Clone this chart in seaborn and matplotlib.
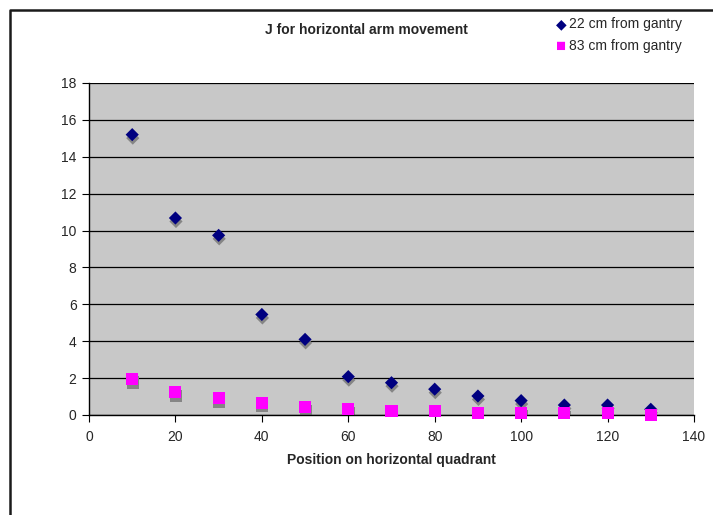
import matplotlib
matplotlib.use("Agg")
import matplotlib.pyplot as plt
import matplotlib.transforms as mtransforms
import seaborn as sns
import pandas as pd

# %% data
position = [10, 20, 30, 40, 50, 60, 70, 80, 90, 100, 110, 120, 130]
j_22cm = [15.2, 10.68, 9.74, 5.45, 4.1, 2.08, 1.75, 1.4, 1.03, 0.78, 0.54, 0.54, 0.31]
j_83cm = [1.95, 1.23, 0.9, 0.65, 0.41, 0.3, 0.23, 0.2, 0.09, 0.12, 0.09, 0.12, 0.02]
series_names = ["22 cm from gantry", "83 cm from gantry"]

df = pd.DataFrame({"position": position * 2,
                   "J": j_22cm + j_83cm,
                   "series": [series_names[0]] * len(position) + [series_names[1]] * len(position)})

# %% style
sns.set_style("white")
plt.rcParams["font.family"] = ["Liberation Sans", "DejaVu Sans"]

W, H = 713, 515
fig = plt.figure(figsize=(W / 100, H / 100), dpi=100)
ax = fig.add_axes([89 / W, 100 / H, 605 / W, 332 / H])
ax.set_facecolor("#C8C8C8")

palette = {series_names[0]: "#000080", series_names[1]: "#FF00FF"}
markers = {series_names[0]: "D", series_names[1]: "s"}
sizes = {series_names[0]: 45, series_names[1]: 75}

# grey drop shadows, shifted a little down/right in screen space
sns.scatterplot(data=df, x="position", y="J", hue="series", style="series",
                palette={n: "#858585" for n in series_names}, markers=markers,
                size="series", sizes=sizes, linewidth=0, ax=ax, zorder=2, legend=False)
shadow = ax.collections[-1]
shadow.set_offset_transform(mtransforms.offset_copy(ax.transData, fig=fig, x=0.4, y=-2.5, units="points"))

sns.scatterplot(data=df, x="position", y="J", hue="series", style="series",
                palette=palette, markers=markers, size="series", sizes=sizes,
                linewidth=0, ax=ax, zorder=3, legend=False)
ax.collections[-1].set_clip_on(False)

ax.set_xlim(0, 140)
ax.set_ylim(0, 18)
ax.set_xticks(range(0, 141, 20))
ax.set_yticks(range(0, 19, 2))
ax.yaxis.grid(True, color="black", linewidth=0.9)
ax.set_axisbelow(True)
for s in ["top", "right"]:
    ax.spines[s].set_visible(False)
for s in ["left", "bottom"]:
    ax.spines[s].set_color("black")
    ax.spines[s].set_linewidth(1)
ax.tick_params(axis="both", which="both", direction="out", length=5, width=0.8,
               labelsize=10, left=True, bottom=True, color="black", pad=4)
ax.tick_params(axis="x", pad=6)
ax.set_xlabel("Position on horizontal quadrant", fontsize=10, fontweight="bold", labelpad=6)
ax.set_ylabel("")

fig.text(366 / W, 1 - 30 / H, "J for horizontal arm movement", ha="center", va="center",
         fontsize=10, fontweight="bold")

# legend (no frame)
fig.text(561 / W, 1 - 24 / H, "\u25C6", ha="center", va="center", fontsize=10, color="#000080")
fig.text(569 / W, 1 - 24 / H, series_names[0], ha="left", va="center", fontsize=10)
fig.text(561 / W, 1 - 46 / H, "\u25A0", ha="center", va="center", fontsize=12, color="#FF00FF")
fig.text(569 / W, 1 - 46 / H, series_names[1], ha="left", va="center", fontsize=10)

# chart-area border: only the top and left edges fall inside the picture
fig.add_artist(plt.Line2D([9.5 / W, 9.5 / W, 1.0], [0.0, 1 - 9.5 / H, 1 - 9.5 / H],
                          transform=fig.transFigure, color="#1a1a1a", linewidth=1.8))

fig.savefig("out.png", dpi=100)
